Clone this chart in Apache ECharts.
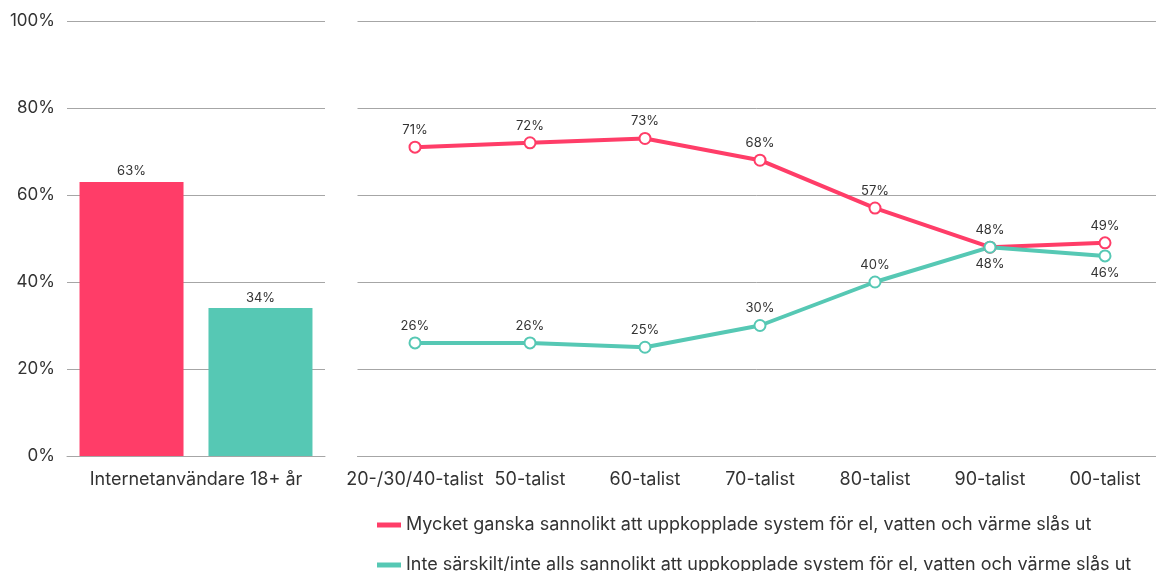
<!DOCTYPE html>
<html><head><meta charset="utf-8">
<script src="https://cdn.jsdelivr.net/npm/echarts@6/dist/echarts.min.js"></script>
<style>html,body{margin:0;padding:0;background:#fff}#c{width:1156px;height:571px}</style>
</head><body><div id="c"></div>
<script>
const totalCategory = ['Internetanvändare 18+ år'];
const totalLikely = [63];
const totalNotLikely = [34];
const generations = ['20-/30/40-talist','50-talist','60-talist','70-talist','80-talist','90-talist','00-talist'];
const likely = [71,72,73,68,57,48,49];
const notLikely = [26,26,25,30,40,48,46];
const notLikelyLabelPos = ['top','top','top','top','top','bottom','bottom'];
const yTicks = [0,20,40,60,80,100];
const nameLikely = 'Mycket ganska sannolikt att uppkopplade system för el, vatten och värme slås ut';
const nameNotLikely = 'Inte särskilt/inte alls sannolikt att uppkopplade system för el, vatten och värme slås ut';

const PINK = '#FF3D68', TEAL = '#56C8B4';
const FONT = 'Inter, "Noto Sans", sans-serif';
const GRID_C = '#a6a6a6';
const chart = echarts.init(document.getElementById('c'));
const yMin = yTicks[0], yMax = yTicks[yTicks.length-1];
const legendBase = {
  left:372, icon:'rect', itemWidth:24, itemHeight:5, itemGap:6,
  textStyle:{color:'#333', fontSize:18, fontFamily:FONT}
};
const xLabel = {color:'#333', fontSize:18, fontFamily:FONT, margin:15, interval:0};
chart.setOption({
  animation:false,
  textStyle:{fontFamily:FONT},
  grid:[
    {left:67, width:258, top:21, bottom:115},
    {left:357.5, right:0, top:21, bottom:115},
    {left:415, width:690, top:21, bottom:115}
  ],
  xAxis:[
    {type:'category', gridIndex:0, data:totalCategory, axisTick:{show:false},
     axisLine:{lineStyle:{color:GRID_C}}, axisLabel:xLabel},
    {type:'value', gridIndex:1, min:0, max:1, axisTick:{show:false}, axisLabel:{show:false},
     splitLine:{show:false}, axisLine:{show:true, onZero:false, lineStyle:{color:GRID_C}}},
    {type:'category', gridIndex:2, data:generations, boundaryGap:false, axisTick:{show:false},
     axisLine:{show:false}, axisLabel:xLabel}
  ],
  yAxis:[
    {type:'value', gridIndex:0, min:yMin, max:yMax, interval:20, axisLine:{show:false}, axisTick:{show:false},
     splitLine:{lineStyle:{color:GRID_C}},
     axisLabel:{color:'#333', fontSize:17, fontFamily:FONT, margin:12, formatter:'{value}%'}},
    {type:'value', gridIndex:1, min:yMin, max:yMax, interval:20, axisLine:{show:false}, axisTick:{show:false},
     splitLine:{lineStyle:{color:GRID_C}}, axisLabel:{show:false}},
    {type:'value', gridIndex:2, min:yMin, max:yMax, interval:20, show:false, splitLine:{show:false}}
  ],
  legend:[
    Object.assign({}, legendBase, {data:[nameLikely], top:511}),
    Object.assign({}, legendBase, {data:[nameNotLikely], top:551})
  ],
  series:[
    {type:'bar', name:'bar1', xAxisIndex:0, yAxisIndex:0, data:totalLikely, barWidth:104, barGap:'24%',
     itemStyle:{color:PINK}, label:{show:true, position:'top', formatter:'{c}%', color:'#333', fontSize:13, distance:4}},
    {type:'bar', name:'bar2', xAxisIndex:0, yAxisIndex:0, data:totalNotLikely, barWidth:104,
     itemStyle:{color:TEAL}, label:{show:true, position:'top', formatter:'{c}%', color:'#333', fontSize:13, distance:4}},
    {type:'line', name:nameLikely, xAxisIndex:2, yAxisIndex:2, data:likely,
     symbol:'emptyCircle', symbolSize:11, lineStyle:{color:PINK, width:4},
     itemStyle:{color:PINK, borderWidth:3},
     label:{show:true, position:'top', formatter:'{c}%', color:'#333', fontSize:13, distance:4}},
    {type:'line', name:nameNotLikely, xAxisIndex:2, yAxisIndex:2,
     data:notLikely.map((v,i)=>({value:v, label:{position:notLikelyLabelPos[i]}})),
     symbol:'emptyCircle', symbolSize:11, lineStyle:{color:TEAL, width:4},
     itemStyle:{color:TEAL, borderWidth:3},
     label:{show:true, position:'top', formatter:'{c}%', color:'#333', fontSize:13, distance:4}}
  ]
});
</script></body></html>
